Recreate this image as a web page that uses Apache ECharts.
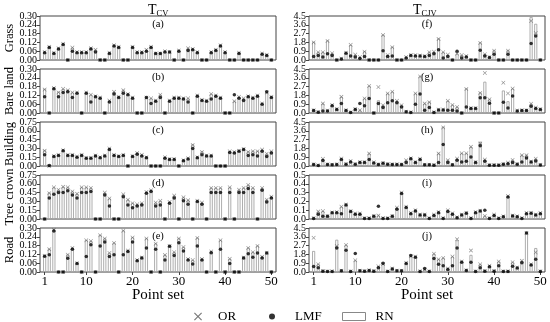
<!DOCTYPE html>
<html><head><meta charset="utf-8">
<script src="https://cdn.jsdelivr.net/npm/echarts@6/dist/echarts.min.js"></script>
<style>html,body{margin:0;padding:0;background:#fff}#c{width:550px;height:322px}</style>
</head><body><div id="c"></div>
<script>
const pointSet = [1,2,3,4,5,6,7,8,9,10,11,12,13,14,15,16,17,18,19,20,21,22,23,24,25,26,27,28,29,30,31,32,33,34,35,36,37,38,39,40,41,42,43,44,45,46,47,48,49,50];
const xTickLabels = [1,10,20,30,40,50];

// (a) Grass, T_CV
const grassCV_RN  = [0.055,0.09,0.05,0.08,0.11,0,0.085,0.055,0.055,0.055,0.08,0.07,0,0,0.05,0.1,0.09,0,0,0.09,0.055,0.055,0.06,0.09,0.045,0.045,0.06,0.055,0,0.065,0,0.08,0.075,0.055,0,0,0.055,0.07,0.1,0.055,0,0,0.05,0,0,0,0,0.045,0.035,0];
const grassCV_LMF = [0.05,0.085,0.045,0.075,0.105,0,0.06,0.05,0.05,0.05,0.075,0.055,0,0,0.045,0.095,0.085,0,0,0.085,0.05,0.05,0.06,0.085,0.045,0.045,0.055,0.055,0,0.06,0,0.065,0.07,0.05,0,0,0.05,0.065,0.095,0.05,0,0,0.045,0,0,0,0,0.04,0.03,0];
const grassCV_OR  = [0.055,0.09,0.05,0.08,0.11,0,0.085,0.055,0.055,0.055,0.08,0.07,0,0,0.05,0.1,0.09,0,0,0.09,0.055,0.055,0.07,0.09,0.045,0.045,0.06,0.055,0,0.065,0,0.08,0.075,0.055,0,0,0.055,0.07,0.1,0.055,0,0,0.05,0,0,0,0,0.045,0.035,0];
// (b) Bare land, T_CV
const bareCV_RN  = [0.165,0,0.17,0.145,0.165,0.155,0.14,0.14,0,0.14,0.125,0.115,0.105,0,0.085,0.145,0.11,0.155,0.13,0.105,0,0,0.105,0.1,0.085,0.125,0,0.085,0.105,0.105,0.1,0.1,0,0.12,0.09,0.085,0.13,0.12,0.105,0,0,0.08,0.11,0.1,0.115,0.105,0.12,0.065,0.14,0.11];
const bareCV_LMF = [0.11,0,0.165,0.11,0.14,0.145,0.105,0.135,0,0.135,0.075,0.11,0.1,0,0.075,0.13,0.105,0.135,0.125,0.1,0,0,0.105,0.065,0.08,0.105,0,0.08,0.1,0.1,0.095,0.075,0,0.115,0.085,0.08,0.095,0.115,0.1,0,0,0.125,0.1,0.085,0.11,0.1,0.115,0.06,0.145,0.105];
const bareCV_OR  = [0.16,0,0.17,0.14,0.165,0.155,0.14,0.14,0,0.14,0.125,0.115,0.105,0,0.085,0.145,0.11,0.155,0.13,0.105,0,0,0.105,0.1,0.085,0.125,0,0.085,0.105,0.105,0.1,0.1,0,0.12,0.09,0.085,0.13,0.12,0.105,0,0,0.08,0.11,0.1,0.115,0.105,0.12,0.065,0.14,0.11];
// (c) Building, T_CV
const buildingCV_RN  = [0.27,0,0.17,0.19,0.27,0.19,0.19,0.16,0.19,0.14,0.14,0.18,0.15,0.18,0.3,0.19,0.17,0.19,0,0.17,0.23,0.19,0.15,0,0,0,0.15,0.12,0.12,0,0.1,0.13,0.37,0.15,0.25,0.18,0.18,0,0,0,0.25,0.24,0.26,0.29,0.25,0.26,0.26,0.28,0.21,0.25];
const buildingCV_LMF = [0.19,0.01,0.16,0.18,0.26,0.18,0.18,0.15,0.18,0.13,0.13,0.17,0.14,0.17,0.28,0.18,0.16,0.18,0,0.16,0.2,0.17,0.14,0,0,0,0.13,0.11,0.11,0,0.09,0.12,0.3,0.14,0.19,0.17,0.17,0,0,0,0.23,0.22,0.25,0.28,0.18,0.19,0.17,0.25,0.16,0.22];
const buildingCV_OR  = [0.26,0,0.17,0.19,0.27,0.19,0.19,0.16,0.19,0.14,0.14,0.18,0.15,0.18,0.3,0.19,0.17,0.19,0,0.17,0.22,0.19,0.15,0,0,0,0.15,0.12,0.12,0,0.1,0.13,0.36,0.15,0.24,0.18,0.18,0,0,0,0.25,0.24,0.26,0.29,0.24,0.25,0.25,0.28,0.21,0.25];
// (d) Tree crown, T_CV
const treeCV_RN  = [0,0.45,0.54,0.5,0.55,0.54,0.47,0.43,0.54,0.54,0.53,0,0,0.45,0.35,0,0,0.42,0.33,0.27,0.25,0.27,0.46,0.49,0.28,0.31,0,0.29,0.4,0,0.37,0.32,0,0.31,0.28,0,0.53,0.53,0.53,0,0.54,0,0.5,0.53,0.58,0.53,0,0.53,0.33,0.38];
const treeCV_LMF = [0,0.36,0.42,0.45,0.45,0.48,0.41,0.36,0.45,0.45,0.47,0,0,0.41,0.22,0,0,0.38,0.24,0.19,0.22,0.24,0.44,0.47,0.22,0.24,0,0.27,0.36,0,0.31,0.25,0,0.3,0.25,0,0.45,0.45,0.45,0,0.45,0,0.45,0.45,0.52,0.45,0,0.49,0.29,0.36];
const treeCV_OR  = [0,0.44,0.54,0.5,0.55,0.54,0.47,0.43,0.54,0.54,0.53,0,0,0.45,0.35,0,0,0.42,0.33,0.27,0.25,0.27,0.46,0.49,0.28,0.31,0,0.29,0.4,0,0.37,0.32,0,0.31,0.28,0,0.53,0.53,0.53,0,0.54,0,0.5,0.53,0.58,0.53,0,0.53,0.33,0.38];
// (e) Road, T_CV
const roadCV_RN  = [0.112,0.157,0.29,0,0,0.12,0.166,0.061,0,0.218,0.213,0,0.253,0.23,0.131,0.2,0,0.284,0.148,0.237,0.082,0.1,0.23,0,0.195,0,0.117,0.178,0.136,0.23,0.171,0.089,0.082,0.234,0.089,0,0.141,0,0.218,0,0.091,0,0,0.1,0.166,0.136,0.18,0.105,0.133,0];
const roadCV_LMF = [0.108,0.117,0.28,0,0,0.094,0.155,0.058,0,0.105,0.185,0,0.178,0.204,0.105,0.117,0,0.117,0.14,0.204,0.077,0.096,0.164,0,0.155,0,0.082,0.176,0.112,0.2,0.143,0.082,0.054,0.178,0.082,0,0.131,0,0.155,0,0.058,0,0,0.096,0.124,0.1,0.129,0.096,0.129,0];
const roadCV_OR  = [0.11,0.155,0.288,0,0,0.118,0.164,0.06,0,0.216,0.211,0,0.25,0.228,0.13,0.198,0,0.282,0.146,0.235,0.081,0.099,0.228,0,0.193,0,0.116,0.177,0.135,0.228,0.17,0.088,0.081,0.232,0.088,0,0.14,0,0.216,0,0.09,0,0,0.099,0.164,0.135,0.178,0.104,0.132,0];
// (f) Grass, T_CJV
const grassCJV_RN  = [1.85,0.8,0.8,2.0,0.7,0,0.15,0.75,1.55,0.55,0.3,0.9,0,0,0,2.6,0.5,1.35,0,0,0.3,0.5,0.5,0.45,0.4,0.8,0.85,2.2,0.8,0.55,0,0.65,0.5,0.4,0,0,1.8,0.6,0.3,1.0,0,0,1.0,0,0,0,0,4.4,3.7,0];
const grassCJV_LMF = [0.35,0.45,0.3,0.65,0.45,0,0.1,0.7,0.4,0.3,0.15,0.35,0,0,0,0.95,0.35,0.4,0,0,0.2,0.45,0.4,0.4,0.35,0.45,0.65,1.05,0.2,0.35,0,0.9,0.2,0.3,0,0,1.0,0.4,0.25,0.6,0,0,0.6,0,0,0,0,1.7,2.45,0];
const grassCJV_OR  = [1.8,0.8,0.8,1.95,0.7,0,0.15,0.75,1.55,0.55,0.3,0.85,0,0,0,2.55,0.5,1.3,0,0,0.3,0.5,0.5,0.45,0.4,0.8,0.85,2.15,0.8,0.55,0,0.65,0.5,0.4,0,0,1.75,0.6,0.3,0.95,0,0,0.95,0,0,0,0,4.0,2.75,0];
// (g) Bare land, T_CJV
const bareCJV_RN  = [0.28,0.1,0.97,0.25,0.83,0.41,1.66,0.28,0.07,0.41,0.28,1.49,2.77,0,1.3,0.8,2.0,2.18,1.25,0.8,0.14,0.07,2.0,3.74,0.97,1.14,0.07,0.35,0.35,1.25,0.83,0.62,0,2.52,0.52,0.52,2.1,3.2,1.4,0,0,2.3,1.2,2.5,0.25,0.28,0.28,0.95,0.55,0.4];
const bareCJV_LMF = [0.25,0.08,0.2,0.2,0.73,0.35,0.97,0.25,0.05,0.35,0.97,0.73,1.49,0,0.97,0.55,1.04,1.25,1.04,0.62,0.12,0.05,0.9,1.94,0.28,0.55,0.05,0.3,0.3,0.28,0.28,0.2,0,0.62,0.45,0.45,1.55,1.55,1.0,0,0,1.1,0.5,1.75,0.2,0.25,0.25,0.7,0.45,0.35];
const bareCJV_OR  = [0.28,0.1,0.97,0.25,0.83,0.41,1.66,0.28,0.07,0.41,0.28,1.49,2.77,0,2.65,0.8,2.0,2.18,1.25,0.8,0.14,0.07,2.0,3.74,0.97,1.1,0.07,0.35,0.35,1.25,0.83,0.62,0,2.45,0.52,0.52,2.05,4.1,1.4,0,0,3.1,2.0,2.5,0.25,0.28,0.28,0.95,0.55,0.4];
// (h) Building, T_CJV
const buildingCJV_RN  = [0.17,0.07,0.73,0.17,0.14,0.17,0.76,0.2,0.52,0.2,0.42,0.42,1.28,0.38,0.17,0.31,0.2,0.17,0.17,0.17,0.59,0.8,0.42,0.73,0.14,0.14,0.1,1.28,4.0,0.59,0.14,0.76,1.3,1.3,1.97,0.42,2.49,0.66,0.1,0.1,0.1,0.2,0.35,0.62,0.2,1.1,1.1,0.45,0.75,0.12];
const buildingCJV_LMF = [0.15,0.05,0.55,0.15,0.12,0.15,0.66,0.18,0.42,0.18,0.35,0.35,0.66,0.31,0.15,0.28,0.18,0.15,0.15,0.15,0.35,0.73,0.35,0.66,0.12,0.12,0.08,0.35,2.2,0.35,0.12,0.59,0.42,0.48,0.93,0.35,2.08,0.48,0.08,0.08,0.08,0.18,0.24,0.35,0.18,0.42,0.83,0.4,0.52,0.1];
const buildingCJV_OR  = [0.17,0.07,0.73,0.17,0.14,0.17,0.76,0.2,0.52,0.2,0.42,0.42,1.28,0.38,0.17,0.31,0.2,0.17,0.17,0.17,0.59,0.8,0.42,0.73,0.14,0.14,0.1,1.28,3.95,0.59,0.14,0.76,1.3,1.3,1.97,0.42,2.3,0.66,0.1,0.1,0.1,0.2,0.35,0.62,0.2,1.1,1.1,0.45,0.75,0.12];
// (i) Tree crown, T_CJV
const treeCJV_RN  = [0.01,0.085,0.09,0.035,0.075,0.08,0.14,0.165,0.09,0.063,0.063,0.01,0.01,0.035,0.04,0.01,0.01,0.035,0.13,0.3,0.14,0.07,0.1,0.05,0.05,0.01,0.05,0.08,0.01,0.1,0.065,0.02,0.05,0.07,0.01,0.08,0.095,0.035,0.01,0.05,0.01,0.03,0.26,0.04,0.03,0.01,0.07,0.07,0.05,0.07];
const treeCJV_LMF = [0.005,0.055,0.03,0.03,0.07,0.07,0.06,0.16,0.085,0.055,0.055,0.005,0.005,0.03,0.145,0.005,0.005,0.03,0.11,0.29,0.13,0.06,0.09,0.045,0.045,0.005,0.04,0.07,0.005,0.085,0.055,0.015,0.045,0.065,0.005,0.07,0.09,0.1,0.005,0.04,0.005,0.025,0.25,0.035,0.025,0.005,0.06,0.065,0.045,0.06];
const treeCJV_OR  = [0.01,0.085,0.09,0.035,0.075,0.08,0.14,0.165,0.09,0.063,0.063,0.01,0.01,0.035,0.04,0.01,0.01,0.035,0.13,0.3,0.14,0.07,0.1,0.05,0.05,0.01,0.05,0.08,0.01,0.1,0.065,0.02,0.05,0.07,0.01,0.08,0.095,0.035,0.01,0.05,0.01,0.03,0.26,0.04,0.03,0.01,0.07,0.07,0.05,0.07];
// (j) Road, T_CJV
const roadCJV_RN  = [2.15,0.8,0.1,0.07,0.07,3.3,0.14,2.77,0.07,1.19,0.14,0.1,0.18,0.1,0.58,0.83,0.07,0.36,0.14,0.14,0.94,1.62,1.58,0.07,0.25,0.07,1.87,1.3,1.44,0.36,1.58,3.24,1.08,0.18,1.75,0.07,0.79,0.1,0.65,0.1,1.08,0.07,0.07,1.0,0.47,1.15,4.0,0.79,2.45,0.07];
const roadCJV_LMF = [0.55,0.43,0.08,0.05,0.05,2.45,0.12,2.23,0.05,1.9,0.12,0.08,0.15,0.08,0.43,0.9,0.05,0.3,0.12,0.12,0.86,1.69,1.51,0.05,0.36,0.05,1.37,0.79,0.65,0.25,0.65,2.45,1.0,0.15,1.0,0.05,0.43,0.08,0.54,0.08,0.65,0.05,0.05,0.58,0.42,0.94,4.0,0.72,1.3,0.05];
const roadCJV_OR  = [3.5,0.8,0.1,0.07,0.07,2.65,0.14,2.77,0.07,1.19,0.14,0.1,0.18,0.1,0.58,0.83,0.07,0.36,0.14,0.14,0.94,1.62,1.58,0.07,0.25,0.07,1.87,1.3,1.44,0.36,1.58,3.35,1.08,0.18,2.2,0.07,0.79,0.1,0.65,0.1,1.08,0.07,0.07,1.0,0.47,1.15,4.0,0.79,2.0,0.07];

const rowNames = ['Grass','Bare land','Building','Tree crown','Road'];
const panelTags = ['(a)','(b)','(c)','(d)','(e)','(f)','(g)','(h)','(i)','(j)'];
// y tick values per panel
const yTicksSmall = [0, 0.06, 0.12, 0.18, 0.24, 0.30];
const yTicksMid   = [0, 0.15, 0.30, 0.45, 0.60, 0.75];
const yTicksBig   = [0, 0.9, 1.8, 2.7, 3.6, 4.5];
const yTicksTenth = [0, 0.1, 0.2, 0.3, 0.4, 0.5];
const panelTicks = [yTicksSmall, yTicksSmall, yTicksMid, yTicksMid, yTicksSmall, yTicksBig, yTicksBig, yTicksBig, yTicksTenth, yTicksBig];
const yDec  = [2,2,2,2,2, 1,1,1,1,1];

const panelData = [
  [grassCV_RN, grassCV_LMF, grassCV_OR],
  [bareCV_RN, bareCV_LMF, bareCV_OR],
  [buildingCV_RN, buildingCV_LMF, buildingCV_OR],
  [treeCV_RN, treeCV_LMF, treeCV_OR],
  [roadCV_RN, roadCV_LMF, roadCV_OR],
  [grassCJV_RN, grassCJV_LMF, grassCJV_OR],
  [bareCJV_RN, bareCJV_LMF, bareCJV_OR],
  [buildingCJV_RN, buildingCJV_LMF, buildingCJV_OR],
  [treeCJV_RN, treeCJV_LMF, treeCJV_OR],
  [roadCJV_RN, roadCJV_LMF, roadCJV_OR]
];

const FF = 'Liberation Serif';
const crossPath = 'path://M0,1L1,0L5,4L9,0L10,1L6,5L10,9L9,10L5,6L1,10L0,9L4,5Z';
const colLeft = [40, 309];
const W = 236, H = 44, TOP0 = 16, ROWSTEP = 53;

const grids = [], xAxes = [], yAxes = [], series = [], graphics = [];
panelData.forEach((d, i) => {
  const col = i < 5 ? 0 : 1, row = i % 5;
  const top = TOP0 + ROWSTEP * row;
  grids.push({left: colLeft[col], top: top, width: W, height: H, show: true,
    borderColor: '#444', borderWidth: 1, backgroundColor: 'transparent'});
  const bottom = row === 4;
  xAxes.push({type: 'value', gridIndex: i, min: 0, max: 51,
    splitLine: {show: false}, axisLine: {show: false},
    axisTick: {show: bottom, customValues: xTickLabels, length: 3, lineStyle: {color: '#444'}},
    axisLabel: {show: bottom, customValues: xTickLabels, fontSize: 13, fontFamily: FF, color: '#000', margin: 3,
      showMinLabel: true, showMaxLabel: true, hideOverlap: false}});
  const dec = yDec[i];
  const ticks = panelTicks[i];
  // two overlapping y axes per panel: even ticks and odd ticks, so every tick label stays visible
  [ticks.filter((t, k) => k % 2 === 0), ticks.filter((t, k) => k % 2 === 1)].forEach(sub => {
    yAxes.push({type: 'value', gridIndex: i, min: 0, max: ticks[ticks.length - 1], position: 'left',
      splitLine: {show: false}, axisLine: {show: false},
      axisTick: {show: true, length: 3, customValues: sub, lineStyle: {color: '#444'}},
      axisLabel: {fontSize: 10, fontFamily: FF, color: '#000', margin: 3, customValues: sub,
        showMinLabel: true, showMaxLabel: true, hideOverlap: false,
        formatter: v => Number(v).toFixed(dec)}});
  });
  const yi = 2 * i;
  series.push({type: 'bar', name: 'RN', xAxisIndex: i, yAxisIndex: yi, barWidth: 3,
    data: d[0].map((v, k) => [pointSet[k], v]), silent: true, z: 1,
    itemStyle: {color: '#fff', borderColor: '#999', borderWidth: 0.8}});
  series.push({type: 'scatter', name: 'OR', xAxisIndex: i, yAxisIndex: yi, symbol: crossPath, symbolSize: 4,
    data: d[2].map((v, k) => [pointSet[k], v]), silent: true, z: 3,
    itemStyle: {color: '#666'}});
  series.push({type: 'scatter', name: 'LMF', xAxisIndex: i, yAxisIndex: yi, symbol: 'circle', symbolSize: 3.5,
    data: d[1].map((v, k) => [pointSet[k], v]), silent: true, z: 4,
    itemStyle: {color: '#000'}});
  graphics.push({type: 'text', x: colLeft[col] + W / 2, y: top + 8,
    style: {text: panelTags[i], fontSize: 10.5, fontFamily: FF, fill: '#000', align: 'center', verticalAlign: 'middle'}});
  if (col === 0) {
    graphics.push({type: 'text', x: 10, y: top + H / 2, rotation: Math.PI / 2,
      style: {text: rowNames[row], fontSize: 12.5, fontFamily: FF, fill: '#000', align: 'center', verticalAlign: 'middle'}});
  }
  if (bottom) {
    graphics.push({type: 'text', x: colLeft[col] + W / 2, y: 295,
      style: {text: 'Point set', fontSize: 15, fontFamily: FF, fill: '#000', align: 'center', verticalAlign: 'middle'}});
  }
});
// column titles T_CV and T_CJV
graphics.push({type: 'text', x: 148, y: 10, style: {text: 'T', fontSize: 14, fontFamily: FF, fill: '#000', align: 'left', verticalAlign: 'middle'}});
graphics.push({type: 'text', x: 156.5, y: 14, style: {text: 'CV', fontSize: 8.5, fontFamily: FF, fill: '#000', align: 'left', verticalAlign: 'middle'}});
graphics.push({type: 'text', x: 413, y: 10, style: {text: 'T', fontSize: 14, fontFamily: FF, fill: '#000', align: 'left', verticalAlign: 'middle'}});
graphics.push({type: 'text', x: 421.5, y: 14, style: {text: 'CJV', fontSize: 8.5, fontFamily: FF, fill: '#000', align: 'left', verticalAlign: 'middle'}});

const legendText = {fontSize: 13, fontFamily: FF, color: '#000'};
const option = {
  animation: false,
  backgroundColor: '#fff',
  grid: grids, xAxis: xAxes, yAxis: yAxes, series: series,
  legend: [
    {data: [{name: 'OR', icon: crossPath, itemStyle: {color: '#555'}}], left: 189, top: 305,
     itemWidth: 8, itemHeight: 8, selectedMode: false, textStyle: Object.assign({padding: [0, 0, 0, 11]}, legendText)},
    {data: [{name: 'LMF', icon: 'circle', itemStyle: {color: '#000'}}], left: 264, top: 305,
     itemWidth: 6, itemHeight: 6, selectedMode: false, textStyle: Object.assign({padding: [0, 0, 0, 15]}, legendText)},
    {data: [{name: 'RN', icon: 'rect', itemStyle: {color: '#fff', borderColor: '#888', borderWidth: 1}}], left: 337, top: 305,
     itemWidth: 23, itemHeight: 8, selectedMode: false, textStyle: Object.assign({padding: [0, 0, 0, 5]}, legendText)}
  ],
  graphic: graphics
};
const chart = echarts.init(document.getElementById('c'), null, {renderer: 'canvas'});
chart.setOption(option);
</script></body></html>
